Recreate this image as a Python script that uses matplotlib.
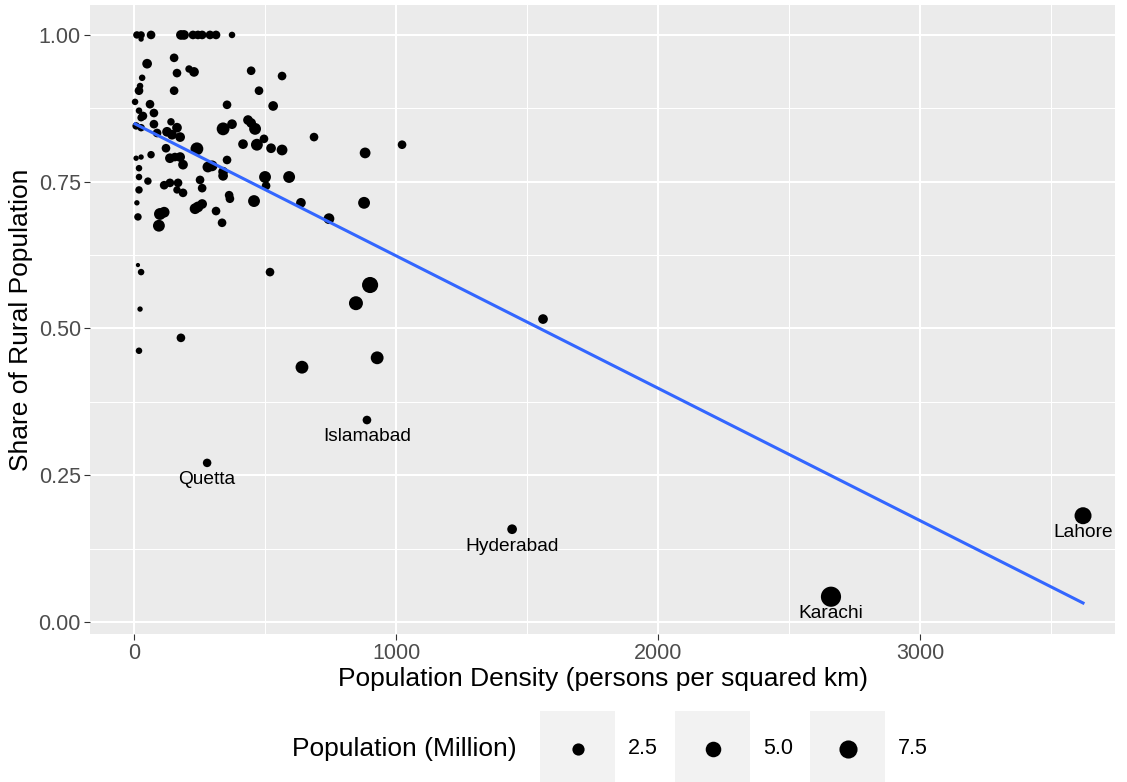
import numpy as np
import matplotlib
matplotlib.use("Agg")
import matplotlib.pyplot as plt
from matplotlib.ticker import MultipleLocator, FormatStrFormatter

plt.rcParams['font.family'] = ['Liberation Sans', 'DejaVu Sans']

# district level figures: density (persons / km2), rural share, population (million)
density = [11, 27, 27, 65, 179, 191, 225, 244, 260, 290, 313, 374,
           153, 50, 164, 210, 229, 447, 565, 31, 23, 19, 153, 477,
           4, 61, 355, 531, 19, 76, 34, 27, 8, 27, 76, 88,
           141, 126, 145, 164, 176, 340, 374, 435, 447, 462, 240, 122,
           416, 469, 496, 523, 565, 687, 882, 1023, 355, 282, 298, 340,
           340, 187, 137, 156, 176, 65, 8, 27, 19, 19, 53, 115,
           137, 168, 252, 260, 164, 187, 19, 500, 504, 592, 11, 15,
           99, 115, 95, 233, 244, 260, 313, 336, 363, 366, 458, 637,
           744, 878, 15, 27, 519, 23, 179, 19, 901, 847, 1561, 641,
           928, 279, 889, 1443, 2660, 3622]
rural_share = [1.000, 1.000, 0.993, 1.000, 1.000, 1.000, 1.000, 1.000, 1.000, 1.000, 1.000, 1.000,
               0.961, 0.951, 0.935, 0.942, 0.937, 0.939, 0.930, 0.927, 0.913, 0.905, 0.905, 0.905,
               0.886, 0.882, 0.881, 0.879, 0.871, 0.867, 0.862, 0.859, 0.845, 0.842, 0.848, 0.833,
               0.852, 0.835, 0.830, 0.842, 0.826, 0.840, 0.848, 0.855, 0.850, 0.840, 0.806, 0.807,
               0.814, 0.813, 0.823, 0.807, 0.804, 0.826, 0.799, 0.813, 0.787, 0.775, 0.777, 0.767,
               0.760, 0.779, 0.790, 0.792, 0.792, 0.796, 0.790, 0.792, 0.773, 0.758, 0.751, 0.744,
               0.748, 0.748, 0.753, 0.739, 0.736, 0.731, 0.736, 0.758, 0.743, 0.758, 0.714, 0.690,
               0.695, 0.698, 0.675, 0.704, 0.707, 0.712, 0.700, 0.680, 0.727, 0.721, 0.717, 0.714,
               0.687, 0.714, 0.608, 0.596, 0.596, 0.533, 0.484, 0.462, 0.574, 0.543, 0.516, 0.434,
               0.450, 0.271, 0.344, 0.158, 0.043, 0.181]
population = [0.45, 0.45, 0.10, 0.80, 1.20, 1.20, 0.80, 0.80, 0.80, 0.80, 0.80, 0.25,
              0.80, 1.20, 0.80, 0.45, 1.20, 0.80, 0.80, 0.25, 0.25, 0.80, 0.80, 0.80,
              0.25, 0.80, 0.80, 1.20, 0.25, 0.80, 0.80, 0.45, 0.45, 0.45, 0.80, 0.80,
              0.45, 1.20, 1.20, 1.20, 1.20, 2.90, 1.20, 1.20, 1.20, 2.30, 2.90, 0.80,
              1.20, 2.30, 0.80, 1.20, 1.70, 0.80, 1.70, 0.80, 0.80, 1.70, 1.70, 1.20,
              1.20, 1.20, 1.20, 0.80, 1.20, 0.45, 0.10, 0.10, 0.25, 0.25, 0.45, 0.80,
              0.80, 0.80, 0.80, 0.80, 0.45, 0.80, 0.45, 2.30, 0.80, 2.30, 0.10, 0.45,
              2.30, 1.70, 2.30, 1.70, 1.70, 1.20, 0.80, 0.80, 0.80, 0.80, 2.30, 1.20,
              1.70, 2.30, 0.05, 0.25, 0.80, 0.10, 0.80, 0.25, 5.50, 3.70, 1.20, 2.90,
              2.90, 0.76, 0.80, 1.20, 9.86, 6.32]
labels = [""] * 109 + ["Quetta", "Islamabad", "Hyderabad", "Karachi", "Lahore"]
size_breaks = [2.5, 5.0, 7.5]

density = np.array(density, dtype=float)
rural_share = np.array(rural_share)
population = np.array(population)

W, H, DPI = 1127, 782, 100
PX = 72 / DPI  # points per pixel

pop_lo, pop_hi = population.min(), population.max()


def marker_area(v):
    # area scale: 1..6 mm, then converted to a marker area in pt^2
    t = (np.asarray(v) - pop_lo) / (pop_hi - pop_lo)
    size_mm = 1 + 5 * np.sqrt(t)
    d_px = 1.12 * (size_mm * 2.845 + 0.945)
    return (d_px * PX) ** 2


fig = plt.figure(figsize=(W / DPI, H / DPI), dpi=DPI)
fig.patch.set_facecolor("white")

p_left, p_right, p_top, p_bot = 90, 1115, 5, 634
ax = fig.add_axes([p_left / W, 1 - p_bot / H, (p_right - p_left) / W, (p_bot - p_top) / H])
ax.set_facecolor("#EBEBEB")
for sp in ax.spines.values():
    sp.set_visible(False)

ax.set_xlim(-168, 3744)
ax.set_ylim(-0.0205, 1.051)
ax.xaxis.set_major_locator(MultipleLocator(1000))
ax.xaxis.set_minor_locator(MultipleLocator(500))
ax.yaxis.set_major_locator(MultipleLocator(0.25))
ax.yaxis.set_minor_locator(MultipleLocator(0.125))
ax.yaxis.set_major_formatter(FormatStrFormatter("%.2f"))
ax.grid(which="major", color="white", lw=1.45)
ax.grid(which="minor", color="white", lw=0.75)
ax.set_axisbelow(True)
ax.tick_params(which="major", length=4, width=0.8, color="#333333",
               labelcolor="#4D4D4D", labelsize=15.5, pad=2.5)
ax.tick_params(which="minor", length=0)

ax.scatter(density, rural_share, s=marker_area(population), c="black",
           linewidths=0, zorder=3)

# least squares fit over the observed density range
slope, icept = np.polyfit(density, rural_share, 1)
xs = np.array([density.min(), density.max()])
ax.plot(xs, icept + slope * xs, color="#3366FF", lw=2.2, zorder=4)

for x, y, name in zip(density, rural_share, labels):
    if name:
        ax.annotate(name, (x, y), xytext=(0, -6), textcoords="offset points",
                    ha="center", va="top", fontsize=13.8, color="black", zorder=5)

ax.set_xlabel("Population Density (persons per squared km)", fontsize=19, labelpad=2)
ax.set_ylabel("Share of Rural Population", fontsize=19, labelpad=4)

# size legend along the bottom
fig.text(292 / W, 1 - 749 / H, "Population (Million)", fontsize=19,
         ha="left", va="center")
key_x = [540, 675, 810]
for kx, val in zip(key_x, size_breaks):
    kax = fig.add_axes([kx / W, 1 - 787 / H, 75 / W, 76 / H])
    kax.set_facecolor("#F2F2F2")
    for sp in kax.spines.values():
        sp.set_visible(False)
    kax.set_xticks([])
    kax.set_yticks([])
    kax.set_xlim(-1, 1)
    kax.set_ylim(-1, 1)
    kax.scatter([0], [0], s=marker_area(val), c="black", linewidths=0)
    fig.text((kx + 88) / W, 1 - 749 / H, f"{val:.1f}", fontsize=15.5,
             ha="left", va="center")

fig.savefig("out.png", dpi=DPI)
